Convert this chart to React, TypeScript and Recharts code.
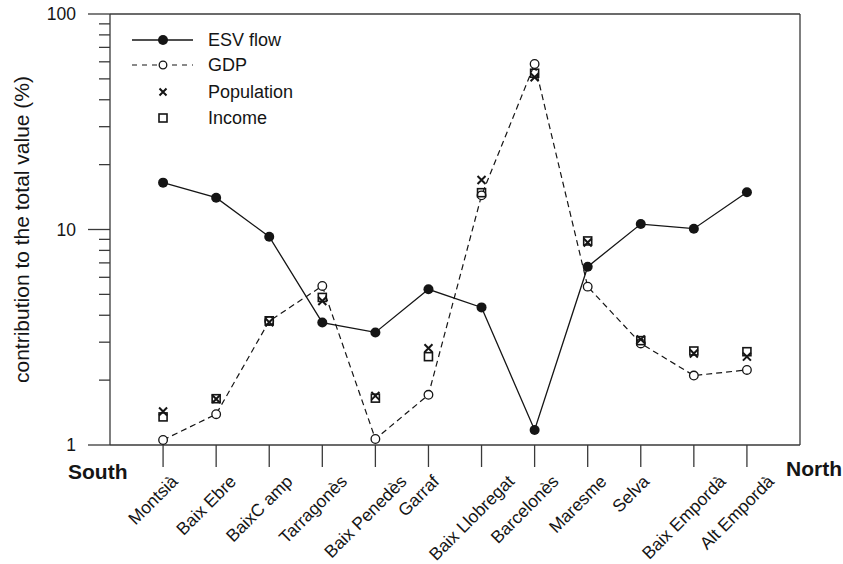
import React from 'react';
import { ComposedChart, Line, XAxis, YAxis, ReferenceLine } from 'recharts';

const categories = ['Montsià', 'Baix Ebre', 'BaixC amp', 'Tarragonès', 'Baix Penedès', 'Garraf', 'Baix Llobregat', 'Barcelonès', 'Maresme', 'Selva', 'Baix Empordà', 'Alt Empordà'];
const esvFlow = [16.5, 14.05, 9.26, 3.7, 3.33, 5.28, 4.35, 1.174, 6.72, 10.6, 10.09, 14.9];
const gdp = [1.055, 1.39, 3.76, 5.47, 1.066, 1.71, 14.4, 58.6, 5.43, 2.96, 2.1, 2.23];
const population = [1.43, 1.635, 3.71, 4.66, 1.69, 2.81, 16.97, 50.9, 8.7, 3.09, 2.66, 2.57];
const income = [1.35, 1.64, 3.77, 4.84, 1.65, 2.57, 14.82, 53.1, 8.85, 3.05, 2.73, 2.71];
const yTicks = [1, 2, 3, 4, 5, 6, 7, 8, 9, 10, 20, 30, 40, 50, 60, 70, 80, 90, 100];
const yMajor = [1, 10, 100];
const xTicks = categories.map((_, i) => i + 1);

const data = categories.map((name, i) => ({
  x: i + 1,
  name,
  esv: esvFlow[i],
  gdp: gdp[i],
  pop: population[i],
  inc: income[i],
}));

const FONT = '"Liberation Sans", Arial, Helvetica, sans-serif';
const INK = '#151515';
const AXIS = '#3a3a3a';

const W: Record<string, number> = {
  ' ': 278, A: 667, B: 667, C: 722, E: 667, G: 778, L: 556, M: 833, P: 667, S: 667, T: 611,
  a: 556, b: 556, c: 500, d: 556, e: 556, f: 278, g: 556, i: 222, l: 222, m: 833, n: 556,
  o: 556, p: 556, r: 333, s: 500, t: 278, v: 500, x: 500, 'à': 556, 'è': 556,
};
const textWidth = (s: string, size: number) => {
  let w = 0;
  for (const c of s) w += W[c] ?? 556;
  return (w * size) / 1000;
};

const XTick = (props: any) => {
  const { x, y, payload } = props;
  const label = categories[payload.value - 1] ?? '';
  const fs = 17.5;
  const L = textWidth(label, fs);
  const ex = x - 5.8 + 0.354 * L;
  const ey = y + 37.5;
  return (
    <g>
      <line x1={x} y1={y} x2={x} y2={y + 22} stroke={AXIS} strokeWidth={1.3} />
      <text x={ex} y={ey} textAnchor="end" fontSize={fs} fontFamily={FONT} fill={INK} transform={`rotate(-45, ${ex}, ${ey})`}>
        {label}
      </text>
    </g>
  );
};

const YTick = (props: any) => {
  const { x, y, payload } = props;
  const v = payload.value;
  const major = yMajor.includes(v);
  return (
    <g>
      <line x1={x - (major ? 22 : 11)} y1={y} x2={x} y2={y} stroke={AXIS} strokeWidth={1.3} />
      {major && (
        <text x={x - 34} y={y} dy="0.35em" textAnchor="end" fontSize={17.5} fontFamily={FONT} fill={INK}>
          {String(v)}
        </text>
      )}
    </g>
  );
};

const FilledDot = (p: any) => <circle key={`e${p.index}`} cx={p.cx} cy={p.cy} r={5} fill={INK} stroke="none" />;
const OpenDot = (p: any) => <circle key={`g${p.index}`} cx={p.cx} cy={p.cy} r={4.3} fill="#fff" stroke={INK} strokeWidth={1.3} />;
const CrossDot = (p: any) => (
  <path key={`p${p.index}`} d={`M${p.cx - 4},${p.cy - 4}L${p.cx + 4},${p.cy + 4}M${p.cx - 4},${p.cy + 4}L${p.cx + 4},${p.cy - 4}`} stroke={INK} strokeWidth={2} fill="none" />
);
const SquareDot = (p: any) => (
  <rect key={`i${p.index}`} x={p.cx - 4} y={p.cy - 4} width={8} height={8} fill="none" stroke={INK} strokeWidth={1.6} />
);

export default function App() {
  return (
    <div style={{ position: 'absolute', left: 0, top: 0, width: 843, height: 564, background: '#fff' }}>
      <ComposedChart width={843} height={564} data={data} margin={{ top: 14, right: 43, left: 10, bottom: 19 }}>
        <XAxis
          dataKey="x"
          type="number"
          domain={[0, 13]}
          ticks={xTicks}
          interval={0}
          tickSize={0}
          tickMargin={0}
          tickLine={false}
          tick={<XTick />}
          height={100}
          axisLine={{ stroke: AXIS, strokeWidth: 1.3 }}
        />
        <YAxis
          type="number"
          scale="log"
          domain={[1, 100]}
          ticks={yTicks}
          interval={0}
          allowDataOverflow
          tickSize={0}
          tickMargin={0}
          tickLine={false}
          tick={<YTick />}
          width={100}
          axisLine={{ stroke: AXIS, strokeWidth: 1.3 }}
        />
        <ReferenceLine y={100} stroke={AXIS} strokeWidth={1.3} />
        <ReferenceLine x={13} stroke={AXIS} strokeWidth={1.3} />
        <Line dataKey="esv" stroke={INK} strokeWidth={1.3} dot={FilledDot} activeDot={false} isAnimationActive={false} />
        <Line dataKey="gdp" stroke={INK} strokeWidth={1.2} strokeDasharray="6 4" dot={OpenDot} activeDot={false} isAnimationActive={false} />
        <Line dataKey="inc" stroke="none" dot={SquareDot} activeDot={false} isAnimationActive={false} />
        <Line dataKey="pop" stroke="none" dot={CrossDot} activeDot={false} isAnimationActive={false} />

        <text x={29} y={229.5} textAnchor="middle" fontSize={21} fontFamily={FONT} fill={INK} transform="rotate(-90, 29, 229.5)">
          contribution to the total value (%)
        </text>
        <text x={68} y={479} fontSize={21} fontWeight="bold" fontFamily={FONT} fill={INK}>South</text>
        <text x={786} y={475.5} fontSize={21} fontWeight="bold" fontFamily={FONT} fill={INK}>North</text>

        <g>
          <line x1={132} y1={40} x2={193} y2={40} stroke={INK} strokeWidth={1.3} />
          <circle cx={163} cy={40} r={5} fill={INK} />
          <text x={208} y={40} dy="0.35em" fontSize={18} fontFamily={FONT} fill={INK}>ESV flow</text>

          <line x1={132} y1={65} x2={193} y2={65} stroke={INK} strokeWidth={1.2} strokeDasharray="5 5" />
          <circle cx={163} cy={65} r={3.8} fill="#fff" stroke={INK} strokeWidth={1.3} />
          <text x={208} y={65} dy="0.35em" fontSize={18} fontFamily={FONT} fill={INK}>GDP</text>

          <path d="M159.5,88.5L166.5,95.5M159.5,95.5L166.5,88.5" stroke={INK} strokeWidth={2} />
          <text x={208} y={92} dy="0.35em" fontSize={18} fontFamily={FONT} fill={INK}>Population</text>

          <rect x={159} y={114} width={8} height={8} fill="none" stroke={INK} strokeWidth={1.6} />
          <text x={208} y={118} dy="0.35em" fontSize={18} fontFamily={FONT} fill={INK}>Income</text>
        </g>
      </ComposedChart>
    </div>
  );
}
